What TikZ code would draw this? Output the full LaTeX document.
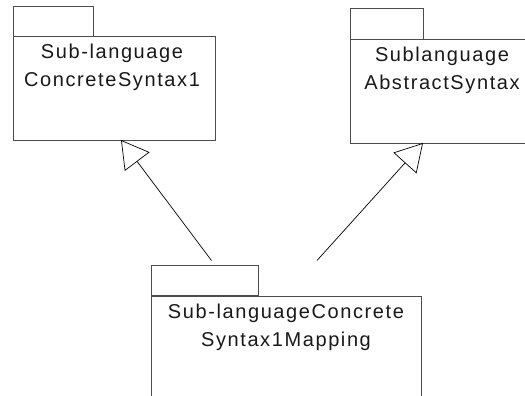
\documentclass[tikz,border=0pt]{standalone}
\usepackage{fontspec}
\setmainfont{Liberation Sans}[LetterSpace=8]
\usetikzlibrary{arrows.meta}
\begin{document}
\begin{tikzpicture}[x=1pt,y=-1pt,
  pkg/.style={draw=black!70, line width=0.8pt, fill=white},
  pkgtext/.style={font=\fontsize{20}{28}\selectfont, align=center, inner sep=0pt, anchor=base, text=black!90},
  gen/.style={draw=black, line width=0.7pt, -{Triangle[open,length=27pt,width=31pt]}}]
\useasboundingbox (0,0) rectangle (525,396);
\clip (0,0) rectangle (525,396);
% left package
\path[pkg] (13,6) rectangle (93,36);
\node[pkg, rectangle, minimum width=202pt, minimum height=104pt, anchor=north west, inner sep=0pt] (lb) at (13,36) {};
\node[pkgtext] (lt) at (112,86.5) {Sub-language\\ConcreteSyntax1};
% right package
\path[pkg] (350,8) rectangle (423,39);
\node[pkg, rectangle, minimum width=185pt, minimum height=104pt, anchor=north west, inner sep=0pt] (rb) at (350,39) {};
\node[pkgtext] (rt) at (442,89.5) {Sublanguage\\AbstractSyntax};
% bottom package
\path[pkg] (151,265) rectangle (258,295.5);
\node[pkg, rectangle, minimum width=270pt, minimum height=130pt, anchor=north west, inner sep=0pt] (bb) at (151,295.5) {};
\node[pkgtext] (bt) at (286,346) {Sub-languageConcrete\\Syntax1Mapping};
% connectors
\coordinate (s1) at (211.5,260.5);
\coordinate (s2) at (317,260.5);
\coordinate (e1) at (121,140);
\coordinate (e2) at (423,143);
\draw[gen] (s1) -- (e1);
\draw[gen] (s2) -- (e2);
\end{tikzpicture}
\end{document}
